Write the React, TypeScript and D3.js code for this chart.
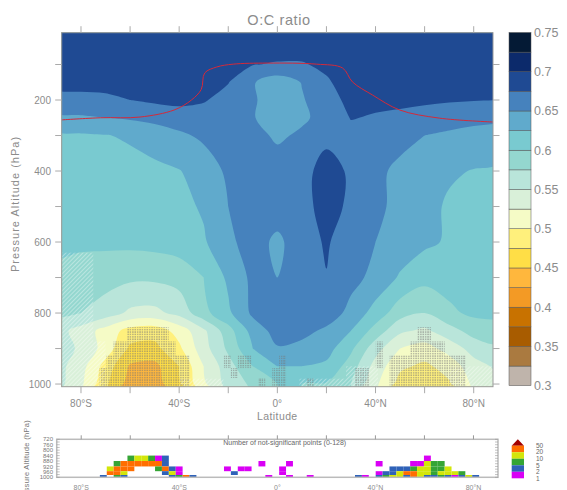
import * as d3 from 'd3'

// ---- data -------------------------------------------------------------
// zonal-mean O:C ratio, columns = LATS, rows = LEVELS (hPa)
const LATS = [-90, -80, -70, -60, -50, -40, -30, -20, -10, 0, 10, 20, 30, 40, 50, 60, 70, 80, 90]
const LEVELS = [10, 100, 150, 200, 250, 300, 400, 500, 600, 700, 800, 850, 900, 950, 1000]
const OC = [
  [.695, .695, .695, .695, .695, .695, .695, .695, .695, .695, .695, .695, .695, .695, .695, .695, .695, .695, .695],
  [.688, .688, .688, .688, .688, .688, .686, .683, .676, .673, .673, .680, .686, .688, .688, .688, .688, .688, .688],
  [.683, .683, .683, .683, .683, .683, .681, .676, .652, .636, .651, .672, .686, .684, .684, .684, .684, .683, .683],
  [.666, .668, .670, .675, .679, .681, .677, .666, .654, .633, .648, .663, .683, .680, .679, .678, .677, .676, .675],
  [.645, .647, .650, .653, .658, .664, .664, .661, .652, .634, .645, .660, .676, .673, .671, .668, .663, .658, .655],
  [.620, .622, .624, .628, .635, .645, .655, .660, .660, .645, .655, .670, .668, .663, .657, .650, .645, .641, .638],
  [.612, .613, .615, .617, .620, .624, .635, .655, .665, .665, .668, .683, .672, .655, .645, .636, .628, .624, .622],
  [.608, .609, .610, .612, .614, .618, .628, .650, .663, .662, .666, .685, .670, .654, .645, .632, .622, .617, .615],
  [.604, .604, .605, .606, .608, .612, .622, .645, .660, .645, .663, .678, .660, .650, .640, .630, .622, .616, .613],
  [.595, .590, .585, .580, .580, .585, .600, .630, .656, .650, .662, .674, .658, .643, .622, .608, .610, .610, .607],
  [.580, .575, .563, .545, .543, .558, .592, .620, .655, .662, .665, .665, .642, .615, .585, .575, .595, .605, .605],
  [.560, .540, .515, .490, .485, .510, .545, .590, .635, .660, .658, .645, .625, .590, .555, .545, .565, .585, .590],
  [.565, .545, .515, .470, .468, .495, .540, .580, .625, .648, .642, .635, .605, .560, .525, .515, .535, .560, .570],
  [.560, .535, .490, .447, .443, .475, .525, .565, .600, .625, .625, .620, .588, .540, .505, .495, .510, .540, .555],
  [.560, .530, .480, .438, .438, .470, .520, .560, .580, .600, .600, .598, .575, .530, .490, .482, .497, .530, .545],
]

const BAND_EDGES = [0.3, 0.325, 0.35, 0.375, 0.4, 0.425, 0.45, 0.475, 0.5, 0.525, 0.55, 0.575, 0.6, 0.625, 0.65, 0.675, 0.7, 0.725, 0.75]
const BAND_COLORS = [
  '#bfb4ab', '#aa7a40', '#a85c00', '#c87200', '#f39a25', '#ffb73d', '#ffde46', '#fff07c', '#f5fbc6',
  '#d9f0d9', '#b9e5da', '#94d7cf', '#79cad0', '#60aacc', '#4682bd', '#1f4a93', '#0c2a6b', '#041a35',
]
const BAR_LABELS = [0.3, 0.35, 0.4, 0.45, 0.5, 0.55, 0.6, 0.65, 0.7, 0.75]

// tropopause (red line)
const TROP_LAT = [-88, -72, -56, -42, -35, -31, -29.6, -24.7, -18, -4, 16, 26.6, 30.6, 38.8, 49.8, 66, 88]
const TROP_P = [256, 250, 248, 228, 200, 170, 124, 107, 99, 96, 99, 110, 149, 186, 228, 251, 262]

// model grid (T42) used by the significance cells
const CELL_LAT0 = -87.86
const CELL_DLAT = 2.8125
const CELL_P = [840, 880, 920, 955, 983, 1013]

// stippled (significant) cells per level row: [firstCell, lastCell]
const STIPPLE = [
  [[10, 15], [52, 53]],
  [[8, 16], [46, 46], [51, 55]],
  [[7, 18], [24, 24], [26, 27], [32, 32], [46, 46], [48, 58]],
  [[6, 18], [25, 25], [31, 32], [43, 44], [48, 58]],
  [[6, 18], [29, 29], [31, 32], [36, 36], [43, 44], [48, 58]],
]

// hatched areas [lat0, lat1, p0, p1]
const HATCH = [
  [-90, -75, 630, 1013],
  [-75, -70, 880, 1013],
  [-40, -22, 985, 1013],
  [9, 28, 985, 1013],
  [28, 41, 950, 1013],
  [70, 90, 950, 1013],
]

// number of not-significant points, category per cell: 1:1-2 2:2-5 3:5-10 4:10-20 5:20-50
const NSIG = [
  [[10, 3], [11, 4], [12, 4], [13, 3], [14, 1], [15, 2], [53, 1]],
  [[8, 3], [9, 5], [10, 5], [11, 5], [12, 5], [13, 5], [14, 5], [15, 2], [29, 1], [33, 1], [46, 1], [51, 1], [52, 1], [53, 4], [54, 3], [55, 3]],
  [[7, 4], [8, 5], [9, 5], [10, 5], [14, 3], [15, 5], [16, 2], [17, 1], [24, 1], [26, 1], [27, 1], [32, 1], [48, 2], [49, 2], [50, 2], [51, 3], [52, 4], [53, 4], [54, 3], [55, 3], [56, 4]],
  [[7, 5], [8, 5], [9, 4], [15, 2], [16, 4], [17, 1], [25, 2], [32, 1], [46, 1], [47, 2], [48, 2], [49, 4], [50, 5], [51, 5], [52, 4], [53, 4], [54, 3], [55, 4], [56, 4], [57, 4], [58, 3]],
  [[6, 2], [8, 3], [9, 2], [16, 2], [17, 3], [18, 5], [19, 2], [30, 1], [33, 1], [36, 1], [43, 2], [44, 1], [46, 2], [47, 3], [48, 4], [49, 4], [50, 2], [51, 5], [52, 4], [53, 2], [54, 2], [55, 3], [56, 2], [57, 1], [58, 2], [59, 4], [60, 2]],
]
const NSIG_COLORS = ['', '#d900f5', '#2f62b8', '#35a535', '#d3e60a', '#ff6e00', '#a30000']
const NSIG_LABELS = ['50', '20', '10', '5', '2', '1']

const LAT_TICKS = [-80, -60, -40, -20, 0, 20, 40, 60, 80]
const LAT_LABELS = [-80, -40, 0, 40, 80]
const P_TICKS = [100, 200, 300, 400, 500, 600, 700, 800, 900, 1000]
const P_LABELS = [200, 400, 600, 800, 1000]
const SUB_P_LABELS = [720, 760, 800, 840, 880, 920, 960, 1000]

const latText = (d: number) => (d === 0 ? '0°' : `${Math.abs(d)}°${d < 0 ? 'S' : 'N'}`)
const FONT = 'Liberation Sans, Arial, sans-serif'
const GREY = '#8c8c8c'

export default function App() {
  // main panel
  const x = d3.scaleLinear().domain([-87.86, 87.86]).range([61.7, 493])
  const y = d3.scaleLinear().domain([10.4, 1007.5]).range([32.7, 386.7])
  const [x0, x1] = x.range()
  const [y0, y1] = y.range()

  const nx = LATS.length
  const ny = LEVELS.length
  const latAt = d3.scaleLinear().domain([-0.5, ...d3.range(nx), nx - 0.5]).range([-95, ...LATS, 95])
  const pAt = d3.scaleLinear().domain([-0.5, ...d3.range(ny), ny - 0.5]).range([0, ...LEVELS, 1025])

  const bands = d3.contours().size([nx, ny]).smooth(true).thresholds(BAND_EDGES.slice(0, -1))(OC.flat())
  const ringLine = d3.line().curve(d3.curveCatmullRomClosed.alpha(0.5))
  const bandPath = (mp: any) =>
    mp.coordinates
      .map((poly: number[][][]) =>
        poly
          .map(ring => {
            const pts = ring.slice(0, -1).map(([c, r]) => [x(latAt(c - 0.5)), y(pAt(r - 0.5))] as [number, number])
            return ringLine(pts)
          })
          .join(''),
      )
      .join('')

  const tropLine = d3.line<number>().x((_, i) => x(TROP_LAT[i])).y(d => y(d)).curve(d3.curveCatmullRom.alpha(0.5))

  // colour bar
  const cb = d3.scaleLinear().domain([0.3, 0.75]).range([385.7, 32.5])

  // sub panel
  const sx = d3.scaleLinear().domain([-90, 90]).range([56.7, 498])
  const sy = d3.scaleLinear().domain([720, 1000]).range([439.3, 477.3])
  const cellLeft = (j: number) => CELL_LAT0 + CELL_DLAT * (j - 0.5)

  return (
    <svg width={567} height={490} style={{ position: 'absolute', left: 0, top: 0, background: '#fff' }}>
      <defs>
        <clipPath id="main-clip"><rect x={x0} y={y0} width={x1 - x0} height={y1 - y0} /></clipPath>
        <clipPath id="sub-clip"><rect x={sx(-90)} y={sy(720)} width={sx(90) - sx(-90)} height={sy(1000) - sy(720)} /></clipPath>
        <pattern id="stip" width={2.4} height={2.4} patternUnits="userSpaceOnUse">
          <rect x={0.3} y={0.3} width={1.1} height={1.1} fill="#777" />
        </pattern>
        <pattern id="hatch" width={3} height={3} patternUnits="userSpaceOnUse" patternTransform="rotate(45)">
          <line x1={0} y1={0} x2={0} y2={3} stroke="#fff" strokeWidth={1} opacity={0.7} />
        </pattern>
      </defs>

      {/* title */}
      <text x={279} y={24.5} textAnchor="middle" fontSize={14.5} letterSpacing={0.6} fontFamily={FONT} fill={GREY}>O:C ratio</text>

      {/* filled contours */}
      <g clipPath="url(#main-clip)">
        <rect x={x0} y={y0} width={x1 - x0} height={y1 - y0} fill={BAND_COLORS[0]} />
        {bands.map((b, i) => (
          <path key={i} d={bandPath(b)} fill={BAND_COLORS[i]} />
        ))}
        {HATCH.map(([la0, la1, p0, p1], i) => (
          <rect key={i} x={x(la0)} y={y(p0)} width={x(la1) - x(la0)} height={y(p1) - y(p0)} fill="url(#hatch)" />
        ))}
        {STIPPLE.map((row, r) =>
          row.map(([j0, j1], k) => (
            <rect key={`${r}-${k}`} x={x(cellLeft(j0))} y={y(CELL_P[r])}
              width={x(cellLeft(j1 + 1)) - x(cellLeft(j0))} height={y(CELL_P[r + 1]) - y(CELL_P[r])}
              fill="url(#stip)" />
          )),
        )}
        <path d={tropLine(TROP_P) || ''} fill="none" stroke="#d42a3a" strokeWidth={1} />
      </g>
      <rect x={x0} y={y0} width={x1 - x0} height={y1 - y0} fill="none" stroke="#999" strokeWidth={1} />

      {/* x axis */}
      {LAT_TICKS.map(d => (
        <g key={d}>
          <line x1={x(d)} x2={x(d)} y1={y0} y2={y0 - 6.5} stroke="#aaa" />
          <line x1={x(d)} x2={x(d)} y1={y1} y2={y1 + 6.5} stroke="#aaa" />
        </g>
      ))}
      {LAT_LABELS.map(d => (
        <text key={d} x={x(d)} y={407} textAnchor="middle" fontSize={10} fontFamily={FONT} fill={GREY}>{latText(d)}</text>
      ))}
      <text x={x(0)} y={420} textAnchor="middle" fontSize={10.5} letterSpacing={0.4} fontFamily={FONT} fill={GREY}>Latitude</text>

      {/* y axis */}
      {P_TICKS.map(p => (
        <g key={p}>
          <line x1={x0} x2={x0 - 6.5} y1={y(p)} y2={y(p)} stroke="#aaa" />
          <line x1={x1} x2={x1 + 6.5} y1={y(p)} y2={y(p)} stroke="#aaa" />
        </g>
      ))}
      {P_LABELS.map(p => (
        <text key={p} x={51} y={y(p)} dy="0.35em" textAnchor="end" fontSize={10} fontFamily={FONT} fill={GREY}>{p}</text>
      ))}
      <text transform="translate(19,204) rotate(-90)" textAnchor="middle" fontSize={11} letterSpacing={1} fontFamily={FONT} fill={GREY}>Pressure Altitude (hPa)</text>

      {/* colour bar */}
      {BAND_COLORS.map((c, i) => (
        <rect key={c} x={509} y={cb(BAND_EDGES[i + 1])} width={22} height={cb(BAND_EDGES[i]) - cb(BAND_EDGES[i + 1])}
          fill={c} stroke="#555" strokeWidth={0.5} />
      ))}
      {BAR_LABELS.map(v => (
        <text key={v} x={534} y={cb(v)} dy="0.35em" fontSize={12.5} fontFamily={FONT} fill={GREY}>{v}</text>
      ))}

      {/* sub panel: number of not-significant points */}
      <g clipPath="url(#sub-clip)">
        {NSIG.map((row, r) =>
          row.map(([j, c]) => (
            <rect key={`${r}-${j}`} x={sx(cellLeft(j))} y={sy(CELL_P[r])}
              width={sx(cellLeft(j + 1)) - sx(cellLeft(j))} height={sy(CELL_P[r + 1]) - sy(CELL_P[r])}
              fill={NSIG_COLORS[c]} />
          )),
        )}
      </g>
      <rect x={sx(-90)} y={sy(720)} width={sx(90) - sx(-90)} height={sy(1000) - sy(720)} fill="none" stroke="#bbb" strokeWidth={1.5} />
      {LAT_TICKS.map(d => (
        <line key={d} x1={sx(d)} x2={sx(d)} y1={sy(720)} y2={sy(720) - 4} stroke="#999" />
      ))}
      {LAT_LABELS.map(d => (
        <text key={d} x={sx(d)} y={489.5} textAnchor="middle" fontSize={7} fontFamily={FONT} fill={GREY}>{latText(d)}</text>
      ))}
      {d3.range(720, 1001, 20).map(p => (
        <g key={p}>
          <line x1={sx(-90)} x2={sx(-90) + 3} y1={sy(p)} y2={sy(p)} stroke="#999" strokeWidth={0.6} />
          <line x1={sx(90)} x2={sx(90) - 3} y1={sy(p)} y2={sy(p)} stroke="#999" strokeWidth={0.6} />
        </g>
      ))}
      {SUB_P_LABELS.map(p => (
        <text key={p} x={53} y={sy(p)} dy="0.35em" textAnchor="end" fontSize={6} fontFamily={FONT} fill="#777">{p}</text>
      ))}
      <text transform="translate(29,462) rotate(-90)" textAnchor="middle" fontSize={7.5} letterSpacing={0.3} fontFamily={FONT} fill="#777">Pressure Altitude (hPa)</text>
      <text x={284.7} y={445} textAnchor="middle" fontSize={7} fontFamily={FONT} fill="#666">Number of not-significant points (0-128)</text>

      {/* sub colour bar */}
      <path d={`M511.7,445.7L524,445.7L517.85,439.3Z`} fill={NSIG_COLORS[6]} />
      {[5, 4, 3, 2, 1].map((c, i) => (
        <rect key={c} x={511.7} y={445.7 + i * 6.52} width={12.3} height={6.52} fill={NSIG_COLORS[c]} />
      ))}
      {NSIG_LABELS.map((t, i) => (
        <text key={t} x={536} y={445.7 + i * 6.52} dy="0.35em" fontSize={6.5} fontFamily={FONT} fill="#666">{t}</text>
      ))}
    </svg>
  )
}
